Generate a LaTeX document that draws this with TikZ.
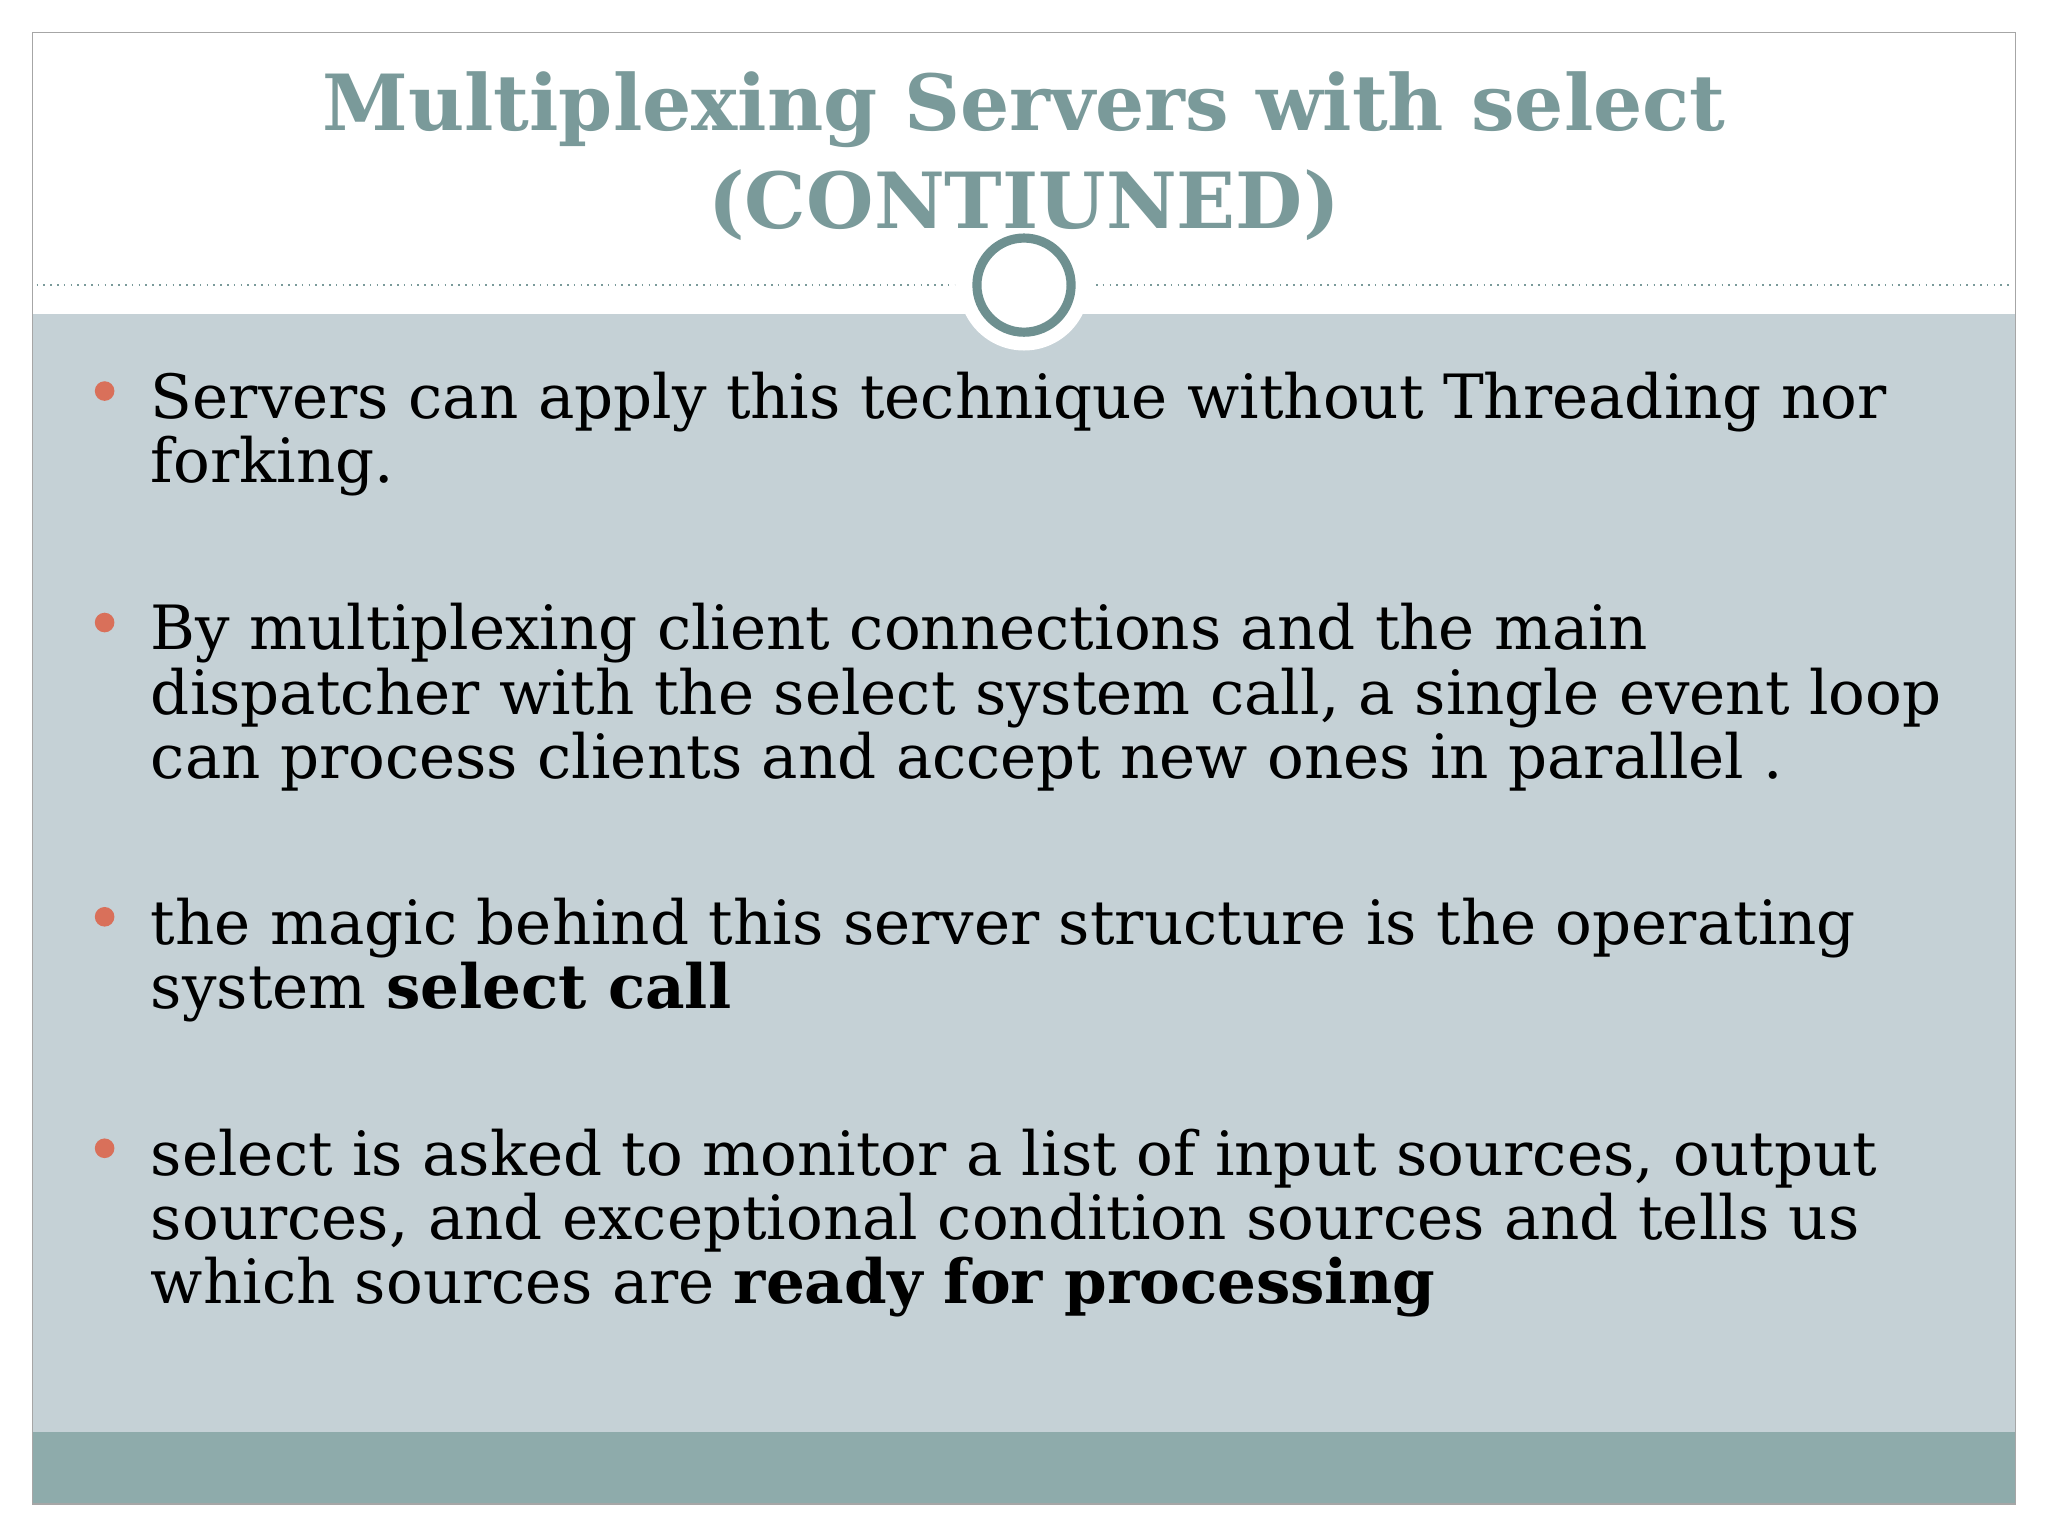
\documentclass[tikz,border=0pt]{standalone}
\usepackage{fontspec}
\setmainfont{DejaVu Serif}
\definecolor{bgblue}{HTML}{C5D1D6}
\definecolor{band}{HTML}{8EABAB}
\definecolor{ttl}{HTML}{7A9A9A}
\definecolor{ring}{HTML}{6E9090}
\definecolor{bul}{HTML}{D9705A}
\begin{document}
\begin{tikzpicture}[x=0.5pt,y=-0.5pt,
  line/.style={anchor=base west,inner sep=0pt,font=\fontsize{23.35}{23}\selectfont},
  ttlstyle/.style={anchor=base,inner sep=0pt,text=ttl,font=\fontsize{29.6}{30}\selectfont\bfseries},
  bdot/.style={circle,fill=bul,inner sep=0pt,minimum size=7.5pt}]
\useasboundingbox (0,0) rectangle (1566,1175);
\fill[white] (0,0) rectangle (1566,1175);
\fill[bgblue] (25,240) rectangle (1541,1095);
\fill[band] (25,1095) rectangle (1541,1150);
\draw[gray!70,line width=0.6pt] (25,25) rectangle (1541,1150);
\draw[ttl,dotted,line width=0.6pt] (28,218) -- (730,218);
\draw[ttl,dotted,line width=0.6pt] (838,218) -- (1538,218);
\fill[white] (783,218) circle (50);
\draw[ring,line width=3.5pt] (783,218) circle (36);
\node[ttlstyle] (t1) at (783,100) {Multiplexing Servers with select};
\node[ttlstyle] (t2) at (783,175) {(CONTIUNED)};
\node[bdot] (b1) at (80,299) {};
\node[bdot] (b2) at (80,476) {};
\node[bdot] (b3) at (80,701) {};
\node[bdot] (b4) at (80,878) {};
\node[line] (l1) at (115,320) {Servers can apply this technique without Threading nor};
\node[line] (l2) at (115,369) {forking.};
\node[line] (l3) at (115,497) {By multiplexing client connections and the main};
\node[line] (l4) at (115,546) {dispatcher with the select system call, a single event loop};
\node[line] (l5) at (115,595) {can process clients and accept new ones in parallel .};
\node[line] (l6) at (115,722) {the magic behind this server structure is the operating};
\node[line] (l7) at (115,771) {system \textbf{select call}};
\node[line] (l8) at (115,899) {select is asked to monitor a list of input sources, output};
\node[line] (l9) at (115,948) {sources, and exceptional condition sources and tells us};
\node[line] (l10) at (115,997) {which sources are \textbf{ready for processing}};
\end{tikzpicture}
\end{document}
